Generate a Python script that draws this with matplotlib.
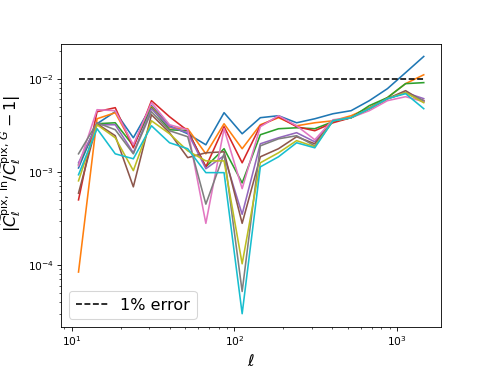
import numpy as np
import matplotlib
matplotlib.use('Agg')
import matplotlib.pyplot as plt

# multipole bin centres
ell = [11.0, 14.3, 18.5, 23.9, 30.9, 39.9, 51.6, 66.7, 86.3, 111.5,
       144.2, 186.5, 241.0, 311.7, 403.0, 521.0, 674.0, 871.0, 1127.0, 1457.0]

# relative error for each realisation (tab10 colour order)
err_blue = [1.10e-3, 3.28e-3, 4.42e-3, 2.32e-3, 5.13e-3, 3.12e-3, 2.56e-3, 1.95e-3, 4.31e-3, 2.56e-3,
            3.81e-3, 4.00e-3, 3.36e-3, 3.71e-3, 4.20e-3, 4.53e-3, 5.80e-3, 7.80e-3, 1.16e-2, 1.73e-2]
err_orange = [8.4e-5, 3.71e-3, 4.31e-3, 1.90e-3, 5.00e-3, 2.97e-3, 2.90e-3, 1.56e-3, 3.28e-3, 1.77e-3,
              3.20e-3, 3.81e-3, 3.12e-3, 3.36e-3, 3.53e-3, 4.00e-3, 4.88e-3, 6.25e-3, 8.84e-3, 1.10e-2]
err_green = [1.19e-3, 3.28e-3, 3.36e-3, 1.90e-3, 4.88e-3, 2.83e-3, 2.76e-3, 1.13e-3, 1.77e-3, 7.6e-4,
             2.50e-3, 2.90e-3, 2.97e-3, 2.90e-3, 3.45e-3, 3.81e-3, 5.13e-3, 6.25e-3, 8.84e-3, 9.06e-3]
err_red = [5.0e-4, 4.42e-3, 4.88e-3, 1.81e-3, 5.80e-3, 3.90e-3, 2.76e-3, 1.13e-3, 3.05e-3, 1.25e-3,
           3.12e-3, 3.90e-3, 3.05e-3, 2.76e-3, 3.36e-3, 3.81e-3, 4.76e-3, 6.10e-3, 7.07e-3, 5.80e-3]
err_purple = [1.25e-3, 3.20e-3, 3.20e-3, 1.60e-3, 4.76e-3, 3.05e-3, 2.63e-3, 1.08e-3, 1.49e-3, 3.5e-4,
              2.00e-3, 2.32e-3, 2.63e-3, 2.10e-3, 3.53e-3, 3.81e-3, 4.76e-3, 6.10e-3, 7.07e-3, 6.10e-3]
err_brown = [5.9e-4, 3.28e-3, 2.44e-3, 6.9e-4, 4.10e-3, 2.63e-3, 1.42e-3, 1.60e-3, 1.64e-3, 2.8e-4,
             1.45e-3, 1.77e-3, 2.38e-3, 2.00e-3, 3.53e-3, 3.81e-3, 4.76e-3, 6.10e-3, 7.43e-3, 5.66e-3]
err_pink = [1.16e-3, 4.64e-3, 4.53e-3, 1.95e-3, 5.52e-3, 3.20e-3, 2.83e-3, 2.8e-4, 2.90e-3, 6.6e-4,
            3.05e-3, 4.00e-3, 3.12e-3, 2.21e-3, 3.62e-3, 3.81e-3, 4.53e-3, 5.80e-3, 6.40e-3, 5.66e-3]
err_gray = [1.56e-3, 3.36e-3, 2.83e-3, 1.56e-3, 4.42e-3, 2.76e-3, 2.38e-3, 4.5e-4, 1.56e-3, 5.2e-5,
            1.90e-3, 2.26e-3, 2.44e-3, 1.90e-3, 3.53e-3, 3.81e-3, 4.76e-3, 6.10e-3, 7.07e-3, 5.80e-3]
err_olive = [8.0e-4, 3.20e-3, 2.32e-3, 1.03e-3, 3.53e-3, 2.56e-3, 1.68e-3, 1.31e-3, 1.31e-3, 1.03e-4,
             1.25e-3, 1.60e-3, 2.16e-3, 1.86e-3, 3.53e-3, 3.81e-3, 4.76e-3, 6.10e-3, 7.07e-3, 5.52e-3]
err_cyan = [9.3e-4, 2.90e-3, 1.56e-3, 1.38e-3, 3.12e-3, 2.05e-3, 1.77e-3, 9.8e-4, 9.8e-4, 3.0e-5,
            1.13e-3, 1.45e-3, 2.05e-3, 1.81e-3, 3.53e-3, 3.81e-3, 4.76e-3, 6.10e-3, 6.90e-3, 4.76e-3]

series = [err_blue, err_orange, err_green, err_red, err_purple,
          err_brown, err_pink, err_gray, err_olive, err_cyan]
target = 0.01

fig = plt.figure(figsize=(6.4, 4.8), dpi=76.5625)
ax = fig.add_subplot(111)
for s in series:
  ax.plot(ell, s)
ax.plot(ell, np.full(len(ell), target), 'k--', label='1% error')
ax.set_xscale('log')
ax.set_yscale('log')
ax.set_xlabel(r'$\ell$', fontsize=15)
ax.set_ylabel(r'$|\widetilde{C}_\ell^{\mathrm{pix,\,ln}}/\widetilde{C}_\ell^{\mathrm{pix},\,G} - 1|$', fontsize=15)
ax.yaxis.label.set_y(0.58)
ax.legend(loc='lower left', fontsize=15)

fig.savefig('out.png', dpi=76.5625)
